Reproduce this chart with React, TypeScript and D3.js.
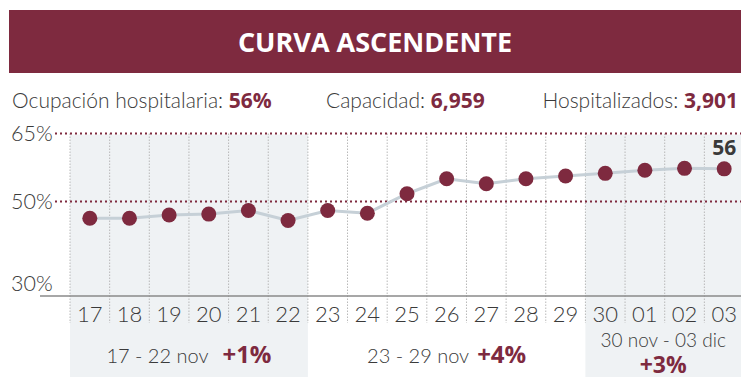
import React from 'react';
import { scaleBand, scaleLinear, line } from 'd3';

const days = ['17', '18', '19', '20', '21', '22', '23', '24', '25', '26', '27', '28', '29', '30', '01', '02', '03'];
const occupancy = [46.3, 46.3, 47.0, 47.2, 48.0, 45.8, 48.0, 47.4, 51.7, 55.0, 53.9, 55.0, 55.6, 56.2, 56.9, 57.3, 57.2];
const yTicks = [65, 50, 30];
const dottedTicks = [65, 50];
const weeks = [
  { from: '17', to: '22', label: '17 - 22 nov', change: '+1%', shaded: true },
  { from: '23', to: '29', label: '23 - 29 nov', change: '+4%', shaded: false },
  { from: '30', to: '03', label: '30 nov - 03 dic', change: '+3%', shaded: true },
];
const stats = [
  { label: 'Ocupación hospitalaria:', value: '56%' },
  { label: 'Capacidad:', value: '6,959' },
  { label: 'Hospitalizados:', value: '3,901' },
];
const lastLabel = '56';

const W = 750;
const H = 388;
const MAROON = '#7e2a3f';
const FONT = '"Open Sans", sans-serif';
const LIGHT = 'Lato, "Open Sans", sans-serif';

export default function App() {
  const x = scaleBand<string>().domain(days).range([70, 744]);
  const y = scaleLinear().domain([30, 65]).range([292, 133.5]);
  const axisY = 296;
  const bottom = 377;

  const path = line<number>()
    .x((_, i) => x(days[i])! + x.bandwidth() / 2)
    .y(v => y(v))(occupancy);

  const last = occupancy.length - 1;
  const light = { fontFamily: LIGHT, fontWeight: 300, fill: '#3a3a3a' };

  return (
    <svg width={W} height={H} style={{ position: 'absolute', left: 0, top: 0 }} fontFamily={FONT}>
      <rect x={0} y={0} width={W} height={H} fill="#fff" />
      {/* header */}
      <rect x={9} y={10} width={732} height={63} fill={MAROON} />
      <text x={375} y={52} textAnchor="middle" fill="#fff" fontSize={27} fontWeight={700}>
        CURVA ASCENDENTE
      </text>

      {/* stats row */}
      <text x={12} y={108} fontSize={21} {...light}>
        {stats[0].label} <tspan fontFamily={FONT} fontSize={21} fontWeight={700} fill={MAROON}>{stats[0].value}</tspan>
      </text>
      <text x={326} y={108} fontSize={21} {...light}>
        {stats[1].label} <tspan fontFamily={FONT} fontSize={21} fontWeight={700} fill={MAROON}>{stats[1].value}</tspan>
      </text>
      <text x={738} y={108} fontSize={21} {...light} textAnchor="end">
        {stats[2].label} <tspan fontFamily={FONT} fontSize={21} fontWeight={700} fill={MAROON}>{stats[2].value}</tspan>
      </text>

      {/* shaded week bands */}
      {weeks.filter(w => w.shaded).map(w => {
        const x0 = x(w.from)!;
        const x1 = Math.min(x(w.to)! + x.bandwidth(), 741);
        return <rect key={w.label} x={x0} y={y(65) + 1} width={x1 - x0} height={bottom - y(65) - 1} fill="#eff2f4" />;
      })}

      {/* vertical dotted separators */}
      {days.map(d => (
        <line key={d} x1={x(d)!} x2={x(d)!} y1={y(65)} y2={323} stroke="#b8b8b8" strokeWidth={1} strokeDasharray="1.5,1.5" />
      ))}

      {/* dotted reference lines */}
      {dottedTicks.map(t => (
        <line key={t} x1={55} x2={741} y1={y(t)} y2={y(t)} stroke={MAROON} strokeWidth={2} strokeDasharray="2,3" />
      ))}

      {/* y labels */}
      {yTicks.map(t => (
        <text key={t} x={11} y={t === 30 ? y(t) - 1 : y(t) + 7.5} fontSize={21.5} {...light}>
          {t}%
        </text>
      ))}

      {/* x axis */}
      <line x1={40} x2={741} y1={axisY} y2={axisY} stroke="#8a8a8a" strokeWidth={1.5} />
      {days.map(d => (
        <text key={d} x={x(d)! + x.bandwidth() / 2} y={322} textAnchor="middle" fontSize={22} {...light}>
          {d}
        </text>
      ))}

      {/* line + dots */}
      <path d={path ?? ''} fill="none" stroke="#c6d0d7" strokeWidth={3} />
      {occupancy.map((v, i) => (
        <circle key={i} cx={x(days[i])! + x.bandwidth() / 2} cy={y(v)} r={7.5} fill={MAROON} />
      ))}
      <text x={x(days[last])! + x.bandwidth() / 2} y={y(occupancy[last]) - 14} textAnchor="middle" fontSize={21} fontWeight={700} fill="#3a3a3a">
        {lastLabel}
      </text>

      {/* week labels */}
      {weeks.map((w, i) => {
        const x0 = x(w.from)!;
        const x1 = Math.min(x(w.to)! + x.bandwidth(), 741);
        const cx = (x0 + x1) / 2;
        if (i === 2) {
          return (
            <g key={w.label}>
              <text x={cx} y={347} textAnchor="middle" fontSize={19} {...light}>{w.label}</text>
              <text x={cx} y={373} textAnchor="middle" fontSize={23} fill={MAROON} fontWeight={700}>{w.change}</text>
            </g>
          );
        }
        return (
          <text key={w.label} x={cx} y={363} textAnchor="middle" fontSize={20} {...light}>
            {w.label}<tspan dx={i === 0 ? 14 : 8} fontFamily={FONT} fontSize={24} fontWeight={700} fill={MAROON}>{w.change}</tspan>
          </text>
        );
      })}
    </svg>
  );
}
